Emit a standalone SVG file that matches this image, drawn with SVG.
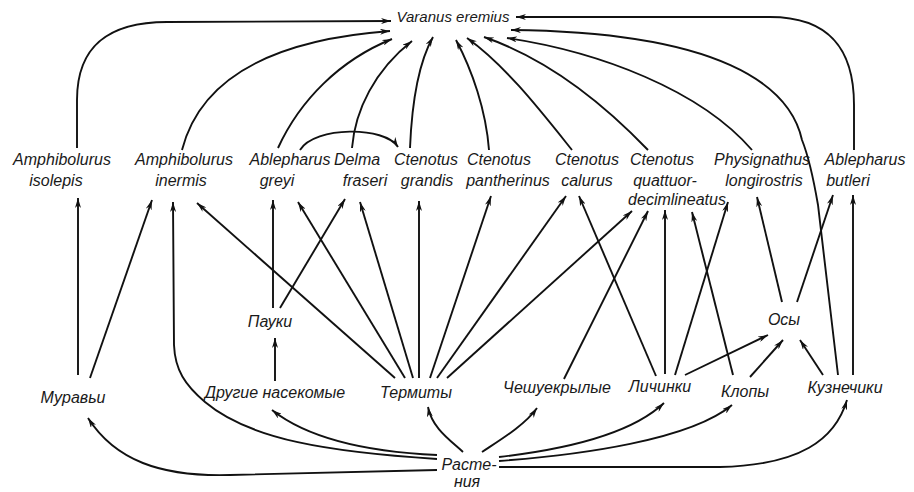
<svg xmlns="http://www.w3.org/2000/svg" width="914" height="492" viewBox="0 0 914 492">
<defs>
<marker id="ah" viewBox="0 0 10 6" refX="10" refY="3" markerWidth="10" markerHeight="6" markerUnits="userSpaceOnUse" orient="auto">
<path d="M0,0 L10,3 L0,6 L3,3 Z" fill="#111"/>
</marker>
<style>
.t{font-family:"Liberation Sans",Arial,sans-serif;font-style:italic;font-size:16px;fill:#1a1a1a;text-anchor:middle}
.e{fill:none;stroke:#111;stroke-width:1.9;marker-end:url(#ah)}
</style>
</defs>
<rect width="914" height="492" fill="#fff"/>
<g id="connectors">
<path class="e" d="M77 148 L77 100 C77 45 110 22 167 22 L391 21"/>
<path class="e" d="M182 150 C200 80 270 40 390 31"/>
<path class="e" d="M278 148 C300 100 340 60 392 39"/>
<path class="e" d="M352 148 C355 110 375 70 412 41"/>
<path class="e" d="M410 148 C412 100 420 60 433 37"/>
<path class="e" d="M489 150 C486 110 472 70 456 40"/>
<path class="e" d="M572 150 C540 110 505 65 467 38"/>
<path class="e" d="M648 150 C600 100 545 58 484 37"/>
<path class="e" d="M752 150 C700 90 600 52 507 38"/>
<path class="e" d="M838 375 L818 205 C812 170 806 150 802 140 C790 85 720 32 511 30"/>
<path class="e" d="M854 150 L854 105 C854 50 830 17 770 17 L516 17"/>
<path class="e" d="M300 150 C315 126 385 126 398 147"/>
<path class="e" d="M78 375 L78 198"/>
<path class="e" d="M90 378 L152 200"/>
<path class="e" d="M437 459 C330 452 250 440 205 402 C185 385 175 370 174 345 L173 202"/>
<path class="e" d="M395 378 L197 203"/>
<path class="e" d="M273 308 L273 200"/>
<path class="e" d="M405 378 L298 202"/>
<path class="e" d="M280 308 L345 199"/>
<path class="e" d="M413 378 L360 202"/>
<path class="e" d="M419 378 L419 201"/>
<path class="e" d="M430 378 L491 196"/>
<path class="e" d="M437 378 L566 196"/>
<path class="e" d="M447 378 L632 211"/>
<path class="e" d="M656 376 L579 196"/>
<path class="e" d="M564 379 L648 211"/>
<path class="e" d="M665 374 L665 210"/>
<path class="e" d="M733 375 L692 212"/>
<path class="e" d="M675 375 L728 202"/>
<path class="e" d="M782 302 L757 197"/>
<path class="e" d="M797 302 L833 195"/>
<path class="e" d="M853 375 L853 195"/>
<path class="e" d="M275 381 L275 338"/>
<path class="e" d="M685 375 L768 335"/>
<path class="e" d="M750 377 L783 340"/>
<path class="e" d="M823 375 L800 340"/>
<path class="e" d="M437 470 L230 475 C160 477 115 460 88 418"/>
<path class="e" d="M437 455 C370 452 310 440 272 410"/>
<path class="e" d="M463 452 C450 440 432 428 428 407"/>
<path class="e" d="M482 452 C500 440 525 425 537 408"/>
<path class="e" d="M499 457 C560 450 630 435 664 403"/>
<path class="e" d="M499 461 C580 455 690 440 732 405"/>
<path class="e" d="M499 467 L720 467 C800 465 835 440 847 400"/>
</g>
<g id="varanus"><text class="t" x="453" y="22" style="font-size:15px">Varanus eremius</text></g>
<g id="a-isolepis"><text class="t" x="62" y="165">Amphibolurus</text><text class="t" x="56" y="186">isolepis</text></g>
<g id="a-inermis"><text class="t" x="184" y="165">Amphibolurus</text><text class="t" x="181" y="186">inermis</text></g>
<g id="a-greyi"><text class="t" x="290" y="165">Ablepharus</text><text class="t" x="277" y="186">greyi</text></g>
<g id="d-fraseri"><text class="t" x="357" y="165">Delma</text><text class="t" x="365" y="186">fraseri</text></g>
<g id="c-grandis"><text class="t" x="426" y="165">Ctenotus</text><text class="t" x="427" y="186">grandis</text></g>
<g id="c-pantherinus"><text class="t" x="499" y="165">Ctenotus</text><text class="t" x="508" y="186">pantherinus</text></g>
<g id="c-calurus"><text class="t" x="587" y="165">Ctenotus</text><text class="t" x="587" y="186">calurus</text></g>
<g id="c-quattuor"><text class="t" x="662" y="165">Ctenotus</text><text class="t" x="665" y="186">quattuor-</text><text class="t" x="677" y="205">decimlineatus</text></g>
<g id="p-longirostris"><text class="t" x="762" y="165">Physignathus</text><text class="t" x="764" y="186">longirostris</text></g>
<g id="a-butleri"><text class="t" x="865" y="165">Ablepharus</text><text class="t" x="848" y="186">butleri</text></g>
<g id="pauki"><text class="t" x="270" y="327">Пауки</text></g>
<g id="osy"><text class="t" x="784" y="325">Осы</text></g>
<g id="muravyi"><text class="t" x="73" y="403">Муравьи</text></g>
<g id="drugie"><text class="t" x="275" y="398">Другие насекомые</text></g>
<g id="termity"><text class="t" x="416" y="398">Термиты</text></g>
<g id="cheshuekrylye"><text class="t" x="557" y="393">Чешуекрылые</text></g>
<g id="lichinki"><text class="t" x="660" y="392">Личинки</text></g>
<g id="klopy"><text class="t" x="745" y="397">Клопы</text></g>
<g id="kuznechiki"><text class="t" x="845" y="393">Кузнечики</text></g>
<g id="rasteniya"><text class="t" x="469" y="470">Расте-</text><text class="t" x="467" y="487">ния</text></g>
</svg>
